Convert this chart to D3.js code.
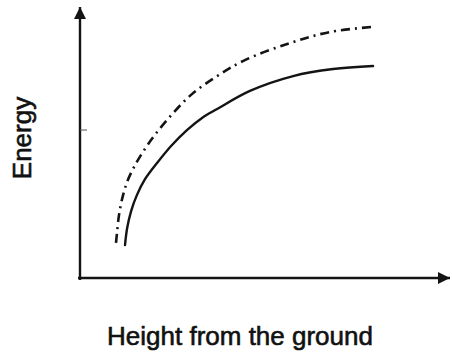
<!DOCTYPE html>
<html>
<head>
<meta charset="utf-8">
<script src="https://cdn.jsdelivr.net/npm/d3@7"></script>
<style>
  html, body { margin: 0; padding: 0; background: #fff; }
  svg { display: block; }
  text { font-family: "Liberation Sans", Arial, sans-serif; fill: #111; }
</style>
</head>
<body>
<svg id="chart" width="452" height="356"></svg>
<script>
// Height from the ground (arbitrary units) and energy for each curve
const lowerHeight = [1.25, 1.31, 1.42, 1.58, 1.81, 2.14, 2.53, 2.97, 3.39, 3.81, 4.72, 5.92, 7.03, 8.14];
const lowerEnergy = [1.22, 1.85, 2.48, 3.07, 3.67, 4.26, 4.89, 5.48, 5.93, 6.26, 6.93, 7.48, 7.74, 7.85];

const upperHeight = [1.00, 1.03, 1.08, 1.17, 1.31, 1.50, 1.75, 2.08, 2.56, 3.11, 3.81, 4.58, 5.83, 6.94, 8.14];
const upperEnergy = [1.30, 1.70, 2.30, 2.93, 3.56, 4.11, 4.67, 5.30, 6.07, 6.81, 7.48, 8.07, 8.70, 9.11, 9.30];

const yTicks = [5.48];
const xLabel = "Height from the ground";
const yLabel = "Energy";

const svg = d3.select("#chart");
const ink = "#141414";

const x = d3.scaleLinear().domain([0, 10]).range([80, 440]);
const y = d3.scaleLinear().domain([0, 10]).range([278, 8]);

// axes drawn as arrows
const defs = svg.append("defs");
defs.append("marker")
  .attr("id", "arrow")
  .attr("viewBox", "0 0 12 12")
  .attr("refX", 12).attr("refY", 6)
  .attr("markerWidth", 12).attr("markerHeight", 12)
  .attr("markerUnits", "userSpaceOnUse")
  .attr("orient", "auto")
  .append("path")
  .attr("d", "M0,0 L12,6 L0,12 Z")
  .attr("fill", ink);

svg.append("line")
  .attr("x1", x(0) - 2).attr("y1", y(0))
  .attr("x2", 450).attr("y2", y(0))
  .attr("stroke", ink).attr("stroke-width", 2.4)
  .attr("marker-end", "url(#arrow)");

svg.append("line")
  .attr("x1", x(0)).attr("y1", y(0) + 2)
  .attr("x2", x(0)).attr("y2", 7)
  .attr("stroke", ink).attr("stroke-width", 2.4)
  .attr("marker-end", "url(#arrow)");

// small tick on the energy axis
svg.selectAll("line.ytick").data(yTicks).join("line")
  .attr("class", "ytick")
  .attr("x1", x(0)).attr("x2", x(0) + 7)
  .attr("y1", d => y(d)).attr("y2", d => y(d))
  .attr("stroke", "#555").attr("stroke-width", 1);

const line = d3.line()
  .x(d => x(d[0]))
  .y(d => y(d[1]))
  .curve(d3.curveCatmullRom.alpha(0.5));

const lower = d3.zip(lowerHeight, lowerEnergy);
const upper = d3.zip(upperHeight, upperEnergy);

svg.append("path")
  .datum(lower)
  .attr("d", line)
  .attr("fill", "none")
  .attr("stroke", ink)
  .attr("stroke-width", 2.4)
  .attr("stroke-linecap", "round");

svg.append("path")
  .datum(upper)
  .attr("d", line)
  .attr("fill", "none")
  .attr("stroke", ink)
  .attr("stroke-width", 2.6)
  .attr("stroke-dasharray", "9,5,2,5");

// axis titles
svg.append("text")
  .attr("x", 240).attr("y", 345)
  .attr("text-anchor", "middle")
  .attr("font-size", 26)
  .attr("stroke", "#111").attr("stroke-width", 0.6)
  .text(xLabel);

svg.append("text")
  .attr("transform", "translate(31,138) rotate(-90)")
  .attr("text-anchor", "middle")
  .attr("font-size", 26)
  .attr("stroke", "#111").attr("stroke-width", 0.6)
  .text(yLabel);
</script>
</body>
</html>
